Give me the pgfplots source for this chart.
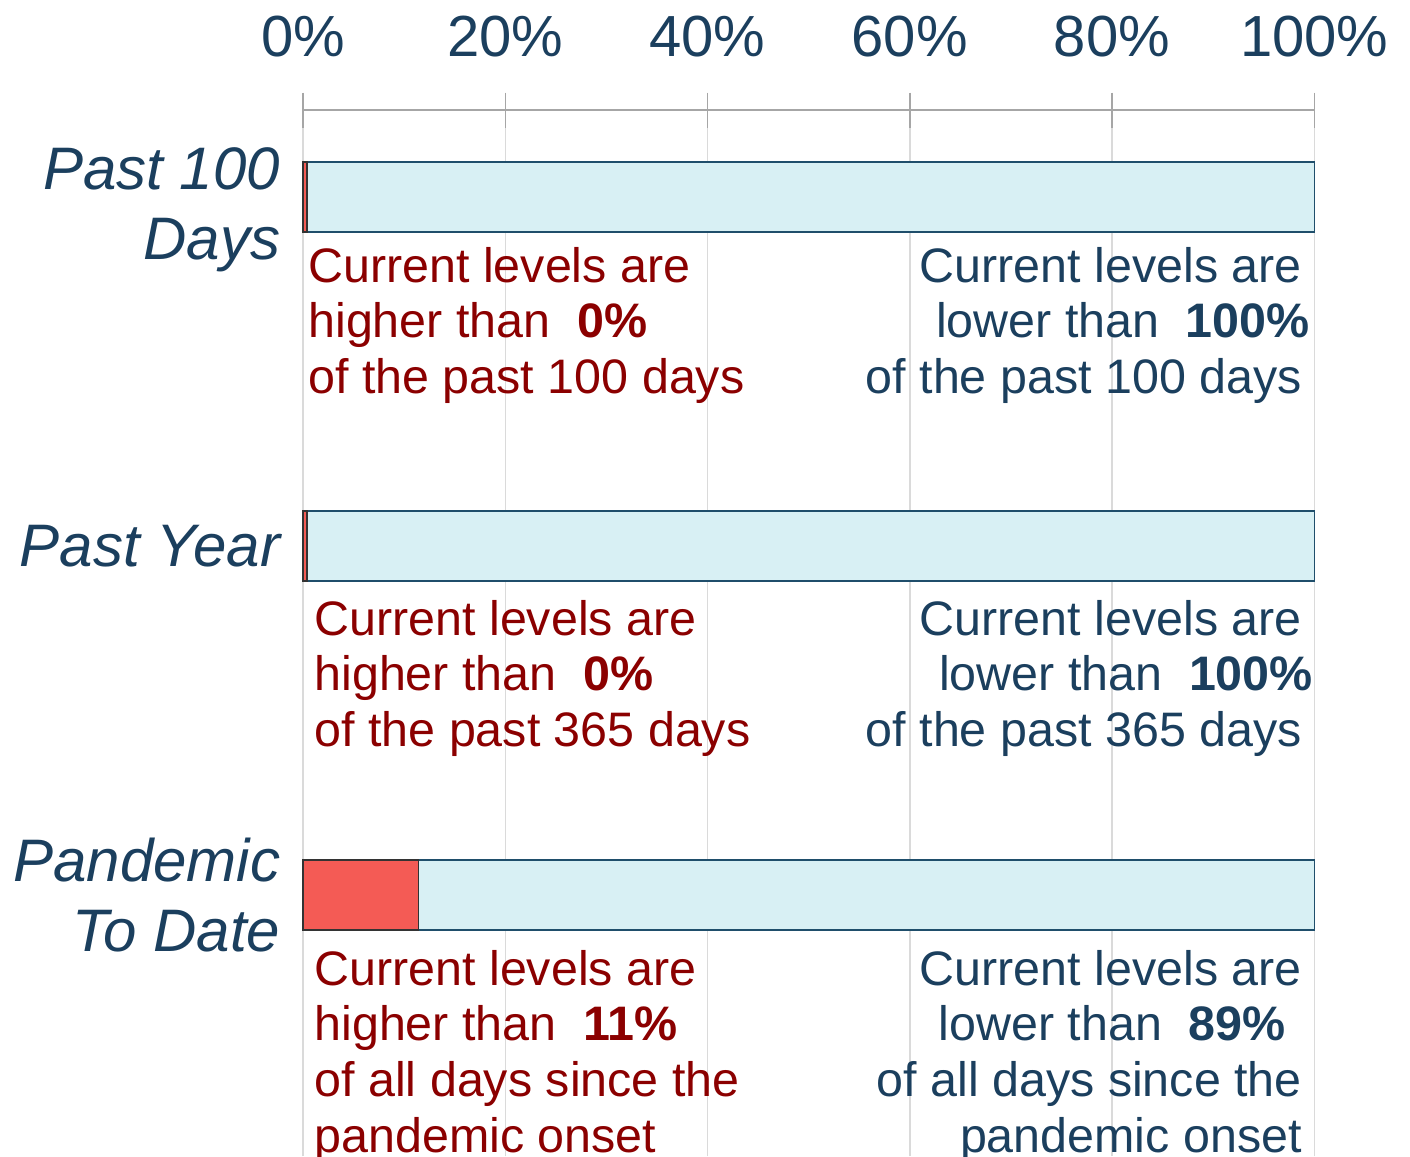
\documentclass[border=0pt]{standalone}
\usepackage{fontspec}
\setmainfont{Liberation Sans}
\usepackage{pgfplots}
\pgfplotsset{compat=1.18}

\definecolor{barred}{HTML}{F45B55}
\definecolor{barblue}{HTML}{D8F0F4}
\definecolor{edgeblue}{HTML}{1F4E6B}
\definecolor{txtred}{HTML}{8B0000}
\definecolor{txtblue}{HTML}{1B3F5E}
\definecolor{gridgray}{HTML}{DADADA}
\definecolor{axgray}{HTML}{A6A6A6}

\tikzset{
  lw/.style={anchor=base west, inner sep=0pt, text=txtred, font=\fontsize{24.2}{27.75}\selectfont},
  le/.style={anchor=base east, inner sep=0pt, text=txtblue, font=\fontsize{24.2}{27.75}\selectfont},
}

\begin{document}
\begin{tikzpicture}
\begin{axis}[
    width=505.5pt, height=523pt,
    scale only axis,
    xbar stacked,
    bar width=35pt,
    xmin=0, xmax=100,
    ymin=-0.748, ymax=2.249,
    clip=false,
    axis x line=top,
    axis y line=left,
    x axis line style={-, draw=axgray, line width=0.75pt},
    y axis line style={draw=none},
    xtick={0,20,40,60,80,100},
    xticklabels={0\%,20\%,40\%,60\%,80\%,100\%},
    tick align=center,
    xtick style={draw=axgray, line width=0.75pt},
    major tick length=17.5pt,
    xticklabel style={font=\fontsize{29}{33}\selectfont, text=txtblue,
        anchor=base, inner sep=0pt, yshift=18pt},
    ytick={0,1},
    yticklabels={{Pandemic\\To Date},{Past Year}},
    extra y ticks={1.963},
    extra y tick labels={{Past 100\\Days}},
    extra y tick style={xmajorgrids=false},
    ytick style={draw=none},
    yticklabel style={font=\itshape\fontsize{30}{35}\selectfont, text=txtblue,
        align=right, anchor=east, inner sep=0pt, xshift=-2.5pt},
    xmajorgrids,
    grid style={draw=gridgray, line width=0.75pt},
]
% share of days below current level (red) and above it (blue)
\addplot[fill=barred, draw=black!80, line width=0.75pt]
    coordinates {(11.4,0) (0.4,1) (0.4,2)};
\addplot[fill=barblue, draw=edgeblue, line width=0.75pt]
    coordinates {(88.6,0) (99.6,1) (99.6,2)};

% Past 100 days
\node[lw] at (axis cs:0.49,1.756) {Current levels are};
\node[lw] at (axis cs:0.49,1.597) {higher than\hspace{0.55em}\textbf{0\%}};
\node[lw] at (axis cs:0.49,1.438) {of the past 100 days};
\node[le] at (axis cs:98.81,1.756) {Current levels are};
\node[le] at (axis cs:99.6,1.597) {lower than\hspace{0.55em}\textbf{100\%}};
\node[le] at (axis cs:98.81,1.438) {of the past 100 days};
% Past year
\node[lw] at (axis cs:1.09,0.745) {Current levels are};
\node[lw] at (axis cs:1.09,0.586) {higher than\hspace{0.55em}\textbf{0\%}};
\node[lw] at (axis cs:1.09,0.427) {of the past 365 days};
\node[le] at (axis cs:98.81,0.745) {Current levels are};
\node[le] at (axis cs:99.9,0.586) {lower than\hspace{0.55em}\textbf{100\%}};
\node[le] at (axis cs:98.81,0.427) {of the past 365 days};
% Pandemic to date
\node[lw] at (axis cs:1.09,-0.258) {Current levels are};
\node[lw] at (axis cs:1.09,-0.415) {higher than\hspace{0.55em}\textbf{11\%}};
\node[lw] at (axis cs:1.09,-0.576) {of all days since the};
\node[lw] at (axis cs:1.09,-0.736) {pandemic onset};
\node[le] at (axis cs:98.81,-0.258) {Current levels are};
\node[le] at (axis cs:97.2,-0.415) {lower than\hspace{0.55em}\textbf{89\%}};
\node[le] at (axis cs:98.81,-0.576) {of all days since the};
\node[le] at (axis cs:98.81,-0.736) {pandemic onset};

\coordinate (bbsw) at (axis cs:-29.97,-0.748);
\coordinate (bbne) at (axis cs:109.47,2.5645);
\end{axis}
\pgfresetboundingbox
\useasboundingbox (bbsw) rectangle (bbne);
\end{tikzpicture}
\end{document}
